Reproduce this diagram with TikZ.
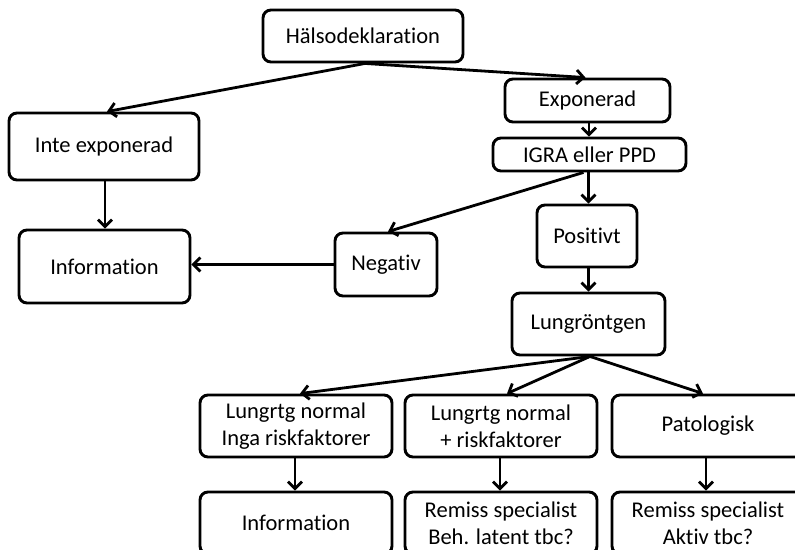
\documentclass[tikz,border=0pt]{standalone}
\usepackage{fontspec}
\setmainfont{Carlito}[Ligatures=NoCommon]
\usetikzlibrary{arrows.meta}
\begin{document}
\begin{tikzpicture}[x=1pt,y=-1pt,
  box/.style={draw=black, line width=2.9pt, rounded corners=8pt, fill=white,
    inner sep=0pt, align=center, font=\fontsize{22.5}{27}\selectfont},
  link/.style={draw=black, line width=2.8pt,
    -{Straight Barb[length=7pt,width=14pt]}}]
\useasboundingbox (0,0) rectangle (795,549);
\clip (0,0) rectangle (795,549);
\fill[white] (0,0) rectangle (795,549);

% boxes (centre, width x height in px)
\node[box, minimum width=200pt, minimum height=52pt] (hals) at (363,36) {Hälsodeklaration};
\node[box, minimum width=165pt, minimum height=43pt] (exp)  at (587.5,100.5) {Exponerad};
\node[box, minimum width=190pt, minimum height=67pt] (inte) at (104,146.5) {Inte exponerad};
\node[box, minimum width=193pt, minimum height=33pt] (igra) at (589.5,154.5) {IGRA eller PPD};
\node[box, minimum width=100pt, minimum height=62pt] (pos)  at (587,236) {Positivt};
\node[box, minimum width=102pt, minimum height=63pt] (neg)  at (386,264.5) {Negativ};
\node[box, minimum width=171pt, minimum height=73pt] (info) at (104.5,266.5) {Information};
\node[box, minimum width=153pt, minimum height=62pt] (lung) at (588.5,324) {Lungröntgen};

\node[box, minimum width=192pt, minimum height=62pt] (n1) at (296,426) {Lungrtg normal\\Inga riskfaktorer};
\node[box, minimum width=192pt, minimum height=62pt] (n2) at (501,426) {Lungrtg normal\\+ riskfaktorer};
\node[box, minimum width=192pt, minimum height=62pt] (n3) at (708,426) {Patologisk};

\node[box, minimum width=192pt, minimum height=62pt] (b1) at (296,523) {Information};
\node[box, minimum width=192pt, minimum height=62pt] (b2) at (501,523) {Remiss specialist\\Beh. latent tbc?};
\node[box, minimum width=192pt, minimum height=62pt] (b3) at (708,523) {Remiss specialist\\Aktiv tbc?};

% connectors
\draw[link] ([xshift=2pt]hals.south) -- ([xshift=3pt]inte.north);
\draw[link] ([xshift=2pt]hals.south) -- ([xshift=-2pt]exp.north);
\draw[link] ([xshift=1.5pt]exp.south) -- ([xshift=1.5pt]exp.south |- igra.north);
\draw[link] ([xshift=-1pt]igra.south) -- ([xshift=-1pt]igra.south |- pos.north);
\draw[link] ([xshift=-6pt]igra.south) -- ([xshift=2pt]neg.north);
\draw[link] ([xshift=1.5pt]pos.south) -- ([xshift=1.5pt]pos.south |- lung.north);
\draw[link] (neg.west) -- (neg.west -| info.east);
\draw[link] ([xshift=1pt]inte.south) -- ([xshift=1pt]inte.south |- info.north);
\draw[link] ([xshift=1.5pt]lung.south) -- ([xshift=4pt]n1.north);
\draw[link] ([xshift=1.5pt]lung.south) -- ([xshift=6pt]n2.north);
\draw[link] ([xshift=1.5pt]lung.south) -- ([xshift=-5pt]n3.north);
\draw[link] ([xshift=-1pt]n1.south) -- ([xshift=-1pt]b1.north);
\draw[link] ([xshift=-1pt]n2.south) -- ([xshift=-1pt]b2.north);
\draw[link] ([xshift=-2pt]n3.south) -- ([xshift=-2pt]b3.north);
\end{tikzpicture}
\end{document}
